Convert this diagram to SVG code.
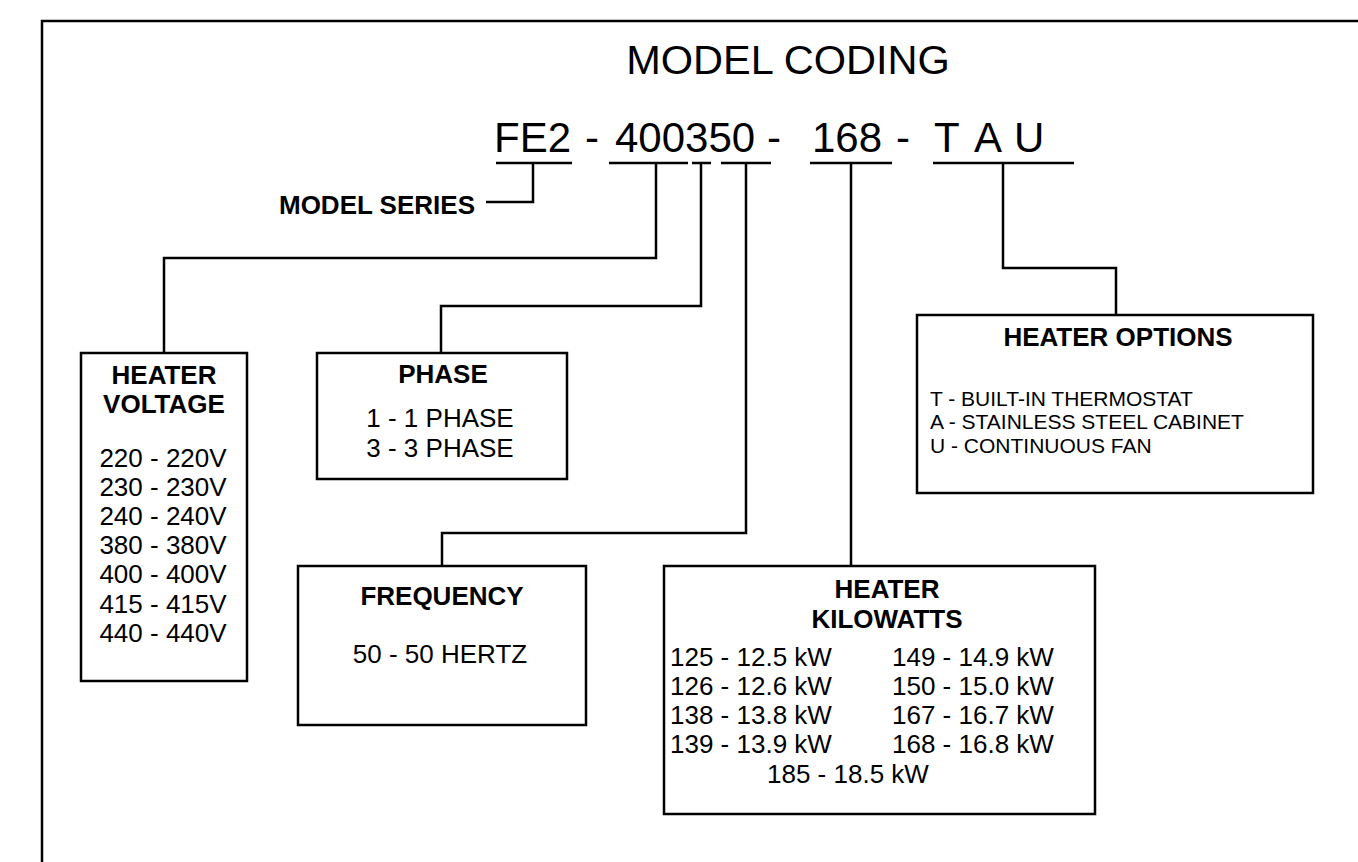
<svg xmlns="http://www.w3.org/2000/svg" width="1358" height="862" viewBox="0 0 1358 862">
<style>
text{font-family:"Liberation Sans",Arial,sans-serif;fill:#000}
.b{font-weight:bold;font-size:26px;text-anchor:middle}
.r{font-size:26px}
.c{text-anchor:middle}
.code{font-size:42px}
.s{font-size:21px}
.ln{fill:none;stroke:#000;stroke-width:2.5}
.box{fill:#fff;stroke:#000;stroke-width:2.5}
</style>
<rect width="1358" height="862" fill="#fff"/>
<path class="ln" d="M42,862 V21 H1358" stroke-width="3"/>
<text x="788" y="74" font-size="41.5" text-anchor="middle">MODEL CODING</text>
<g id="code">
<text class="code" x="494" y="152">FE2</text>
<text class="code" x="585" y="152">-</text>
<text class="code" x="615" y="152">400350</text>
<text class="code" x="767" y="152">-</text>
<text class="code" x="812" y="152">168</text>
<text class="code" x="896" y="152">-</text>
<text class="code" x="934" y="152">T</text>
<text class="code" x="974" y="152">A</text>
<text class="code" x="1014" y="152">U</text>
</g>
<g id="connectors">
<path class="ln" d="M496,163 H572 M609,163 H688 M692,163 H711 M721,163 H771 M810,163 H892 M933,163 H1074"/>
<path class="ln" d="M533,163 V202 H486"/>
<path class="ln" d="M656,163 V258 H164 V353"/>
<path class="ln" d="M701,163 V306 H441 V353"/>
<path class="ln" d="M746,163 V533 H442 V566"/>
<path class="ln" d="M851,163 V566"/>
<path class="ln" d="M1003,163 V268 H1116 V315"/>
</g>
<g id="model-series">
<text x="475" y="214" font-size="26" font-weight="bold" text-anchor="end">MODEL SERIES</text>
</g>
<g id="heater-voltage">
<rect class="box" x="81" y="353" width="166" height="328"/>
<text class="b" x="164" y="384">HEATER</text>
<text class="b" x="164" y="413">VOLTAGE</text>
<text class="r c" x="163" y="467">220 - 220V</text>
<text class="r c" x="163" y="496">230 - 230V</text>
<text class="r c" x="163" y="525">240 - 240V</text>
<text class="r c" x="163" y="554">380 - 380V</text>
<text class="r c" x="163" y="583">400 - 400V</text>
<text class="r c" x="163" y="613">415 - 415V</text>
<text class="r c" x="163" y="642">440 - 440V</text>
</g>
<g id="phase">
<rect class="box" x="317" y="353" width="250" height="126"/>
<text class="b" x="443" y="383">PHASE</text>
<text class="r c" x="440" y="427">1 - 1 PHASE</text>
<text class="r c" x="440" y="457">3 - 3 PHASE</text>
</g>
<g id="frequency">
<rect class="box" x="298" y="566" width="288" height="159"/>
<text class="b" x="442" y="605">FREQUENCY</text>
<text class="r c" x="440" y="663">50 - 50 HERTZ</text>
</g>
<g id="heater-kilowatts">
<rect class="box" x="664" y="566" width="431" height="248"/>
<text class="b" x="887" y="598">HEATER</text>
<text class="b" x="887" y="628">KILOWATTS</text>
<text class="r" x="670" y="666">125 - 12.5 kW</text>
<text class="r" x="670" y="695">126 - 12.6 kW</text>
<text class="r" x="670" y="724">138 - 13.8 kW</text>
<text class="r" x="670" y="753">139 - 13.9 kW</text>
<text class="r" x="892" y="666">149 - 14.9 kW</text>
<text class="r" x="892" y="695">150 - 15.0 kW</text>
<text class="r" x="892" y="724">167 - 16.7 kW</text>
<text class="r" x="892" y="753">168 - 16.8 kW</text>
<text class="r" x="767" y="783">185 - 18.5 kW</text>
</g>
<g id="heater-options">
<rect class="box" x="917" y="315" width="396" height="178"/>
<text class="b" x="1118" y="346">HEATER OPTIONS</text>
<text class="s" x="930" y="406">T - BUILT-IN THERMOSTAT</text>
<text class="s" x="930" y="429">A - STAINLESS STEEL CABINET</text>
<text class="s" x="930" y="453">U - CONTINUOUS FAN</text>
</g>
</svg>
